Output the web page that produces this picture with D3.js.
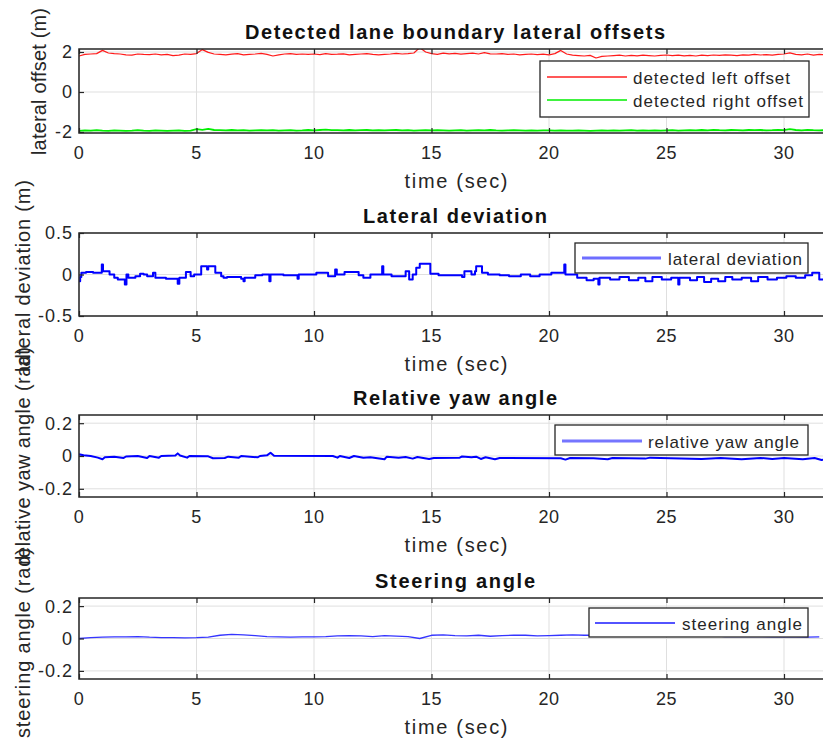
<!DOCTYPE html>
<html><head><meta charset="utf-8">
<script src="https://cdn.jsdelivr.net/npm/d3@7"></script>
<style>body{margin:0;background:#fff}svg{display:block}text{font-family:"Liberation Sans",Arial,Helvetica,sans-serif}</style>
</head><body><svg id="c" width="823" height="742"></svg>
<script>
// ---------- data ----------
const xTicks = [0, 5, 10, 15, 20, 25, 30];
const xDomain = [0, 32];

// lane offsets, sampled every 0.25 s
const offsetStep = 0.25;
const leftOffset = [
 1.80,1.88,1.90,1.92, 2.08,1.95,1.92,1.90, 1.86,1.84,1.90,1.88, 1.87,1.90,1.86,1.88,
 1.82,1.84,1.90,1.88, 1.92,2.12,1.98,1.90, 1.88,1.86,1.89,1.92, 1.86,1.88,1.90,1.93,
 1.88,1.80,1.86,1.90, 1.92,1.88,1.90,1.88, 1.90,1.87,1.92,1.88, 1.89,1.91,1.86,1.88,
 1.90,1.92,1.88,1.86, 1.88,1.90,1.93,1.90, 1.92,1.95,2.22,2.00, 1.92,1.88,1.94,1.91,
 1.93,1.89,1.92,1.94, 1.90,1.97,1.91,1.90, 1.92,1.88,1.90,1.86, 1.88,1.90,1.87,1.89,
 1.86,1.92,2.08,1.90, 1.84,1.82,1.80,1.83, 1.70,1.78,1.80,1.82, 1.84,1.80,1.83,1.81,
 1.84,1.82,1.80,1.83, 1.85,1.82,1.84,1.81, 1.83,1.80,1.84,1.82, 1.85,1.83,1.86,1.84,
 1.82,1.86,1.84,1.88, 1.85,1.87,1.84,1.88, 1.90,1.96,1.88,1.86, 1.90,1.84,1.88,1.86];
const rightOffset = [
 -1.94,-1.92,-1.93,-1.91, -1.93,-1.94,-1.92,-1.93, -1.94,-1.93,-1.91,-1.93, -1.94,-1.92,-1.93,-1.94,
 -1.93,-1.92,-1.94,-1.93, -1.86,-1.89,-1.84,-1.90, -1.91,-1.92,-1.90,-1.92, -1.91,-1.93,-1.92,-1.91,
 -1.92,-1.91,-1.93,-1.92, -1.91,-1.93,-1.92,-1.90, -1.92,-1.90,-1.88,-1.91, -1.91,-1.92,-1.90,-1.92,
 -1.91,-1.90,-1.92,-1.91, -1.92,-1.91,-1.90,-1.92, -1.91,-1.93,-1.92,-1.91, -1.92,-1.91,-1.92,-1.93,
 -1.92,-1.91,-1.93,-1.92, -1.91,-1.92,-1.90,-1.92, -1.93,-1.92,-1.91,-1.92, -1.93,-1.92,-1.93,-1.92,
 -1.92,-1.93,-1.92,-1.93, -1.93,-1.92,-1.93,-1.94, -1.93,-1.92,-1.93,-1.92, -1.93,-1.92,-1.91,-1.93,
 -1.92,-1.93,-1.92,-1.93, -1.92,-1.91,-1.93,-1.92, -1.91,-1.92,-1.90,-1.92, -1.89,-1.91,-1.92,-1.90,
 -1.91,-1.92,-1.90,-1.91, -1.90,-1.92,-1.91,-1.89, -1.91,-1.86,-1.90,-1.92, -1.89,-1.91,-1.92,-1.91];

// lateral deviation (step signal)
const latDevTime = [0,0.05,0.1,0.3,0.6,0.97,1.02,1.3,1.5,1.65,1.95,2.02,2.1,2.4,2.6,2.75,2.9,3.15,3.25,3.7,
 4.2,4.27,4.55,4.75,4.9,5.2,5.45,5.5,5.8,6.05,6.15,6.3,6.9,7.0,7.05,7.5,7.8,8.1,8.15,8.7,
 9.3,9.35,10.1,10.6,10.9,10.97,11.3,11.9,12.1,12.4,12.9,12.95,13.3,13.9,14.05,14.2,14.35,14.5,14.95,15.3,
 16.3,16.4,16.7,16.85,16.9,17.15,17.4,17.9,18.3,18.8,19.2,19.6,20.1,20.65,20.7,21.2,21.6,21.9,22.1,22.15,
 22.6,23.0,23.4,23.8,24.1,24.4,24.8,25.2,25.5,25.55,26.0,26.3,26.6,26.9,27.2,27.5,27.8,28.2,28.6,28.9,
 29.3,29.7,30.1,30.5,30.9,31.2,31.5,32];
const latDevValue = [-0.08,-0.03,0.02,0.03,0.02,0.12,0.04,0.0,-0.04,-0.06,-0.12,0.0,-0.04,-0.02,0.01,0.0,-0.02,0.02,-0.04,-0.05,
 -0.11,-0.04,0.03,-0.02,0.0,0.1,0.06,0.1,0.02,-0.02,-0.04,-0.03,-0.05,-0.08,-0.04,-0.01,0.0,-0.08,0.0,-0.01,
 -0.05,0.0,0.02,-0.02,0.06,0.0,0.03,-0.01,-0.04,0.0,0.1,0.0,-0.02,0.04,-0.06,0.0,0.08,0.13,0.01,-0.01,
 -0.03,0.04,0.0,0.04,0.1,0.02,0.0,-0.01,-0.02,0.0,-0.02,0.0,0.02,0.12,0.0,-0.04,-0.07,-0.05,-0.12,-0.04,
 -0.06,-0.03,-0.07,-0.04,-0.08,-0.03,-0.06,-0.04,-0.12,-0.04,-0.07,-0.03,-0.09,-0.05,-0.08,-0.03,-0.06,-0.04,-0.08,-0.03,
 -0.06,-0.04,-0.02,-0.04,-0.01,0.02,-0.06,-0.06];

// relative yaw angle
const yawTime = [0,0.2,0.5,0.8,1.0,1.1,1.5,1.9,2.0,2.5, 2.9,3.0,3.4,3.5,4.1,4.2,4.3,4.6,4.7,5.5,
 5.7,6.2,6.35,6.8,6.9,7.6,7.7,8.0,8.15,8.3, 10.8,11.0,11.1,11.5,11.7,12.1,12.4,13.0,13.1,13.6,
 13.9,14.2,14.4,14.9,15.1,16.2,16.3,16.7,16.9,17.1, 17.3,17.7,17.9,20.5,20.7,20.9,21.9,22.5,22.7,24.1,
 24.3,26.5,27.3,28.2,29.0,29.5,30.0,30.8,31.3,31.6, 32];
const yawValue = [0.01,0.005,0.0,-0.01,-0.02,-0.008,-0.005,-0.012,-0.003,0.0, -0.012,0.0,-0.01,0.0,0.003,0.016,0.003,-0.01,0.0,-0.002,
 -0.014,-0.012,-0.004,-0.01,0.0,-0.008,0.0,0.004,0.02,0.002, 0.0,-0.01,0.0,-0.012,0.0,-0.01,-0.008,-0.02,-0.004,-0.01,
 -0.006,-0.016,-0.006,-0.018,-0.012,-0.01,-0.003,-0.008,-0.004,-0.018, -0.008,-0.02,-0.012,-0.014,-0.022,-0.012,-0.014,-0.02,-0.012,-0.016,
 -0.01,-0.018,-0.012,-0.02,-0.012,-0.018,-0.012,-0.02,-0.012,-0.024, -0.014];

// steering angle, sampled every 0.5 s
const steerStep = 0.5;
const steerValue = [0.0,0.005, 0.008,0.01, 0.01,0.012, 0.008,0.006, 0.005,0.004, 0.005,0.008, 0.02,0.025, 0.022,0.018,
 0.012,0.01, 0.008,0.01, 0.01,0.012, 0.016,0.018, 0.016,0.012, 0.018,0.015, 0.012,0.0, 0.02,0.022,
 0.018,0.016, 0.02,0.014, 0.018,0.02, 0.02,0.016, 0.018,0.02, 0.022,0.02, 0.02,0.018, 0.02,0.022,
 0.02,0.018, 0.016,0.018, 0.015,0.014, 0.016,0.012, 0.014,0.012, 0.012,0.01, 0.012,0.01, 0.008,0.01];

const titles = ["Detected lane boundary lateral offsets","Lateral deviation","Relative yaw angle","Steering angle"];
const yLabels = ["lateral offset (m)","lateral deviation (m)","relative yaw angle (rad)","steering angle (rad)"];
const xLabel = "time (sec)";
const yTicks1 = [-2,0,2], yTicks2 = [-0.5,0,0.5], yTicks3 = [-0.2,0,0.2], yTicks4 = [-0.2,0,0.2];

// ---------- drawing ----------
const svg = d3.select("#c");
const X0 = 79, X1 = 831;
const INK = "#262626";

const panels = [
 {top:49, bottom:133, dom:[-2.05,2.15], ticks:yTicks1, fmt:d=>String(d).replace("-","-"),
  series:[
   {t:leftOffset.map((_,i)=>i*offsetStep), v:leftOffset, color:"#ff1a1a", w:1.2, curve:d3.curveLinear},
   {t:rightOffset.map((_,i)=>i*offsetStep), v:rightOffset, color:"#00ee00", w:1.8, curve:d3.curveLinear}],
  title:{len:420}, ylab:{x:46, cy:81.5, len:147},
  legend:{x:540,y:61,w:269,h:56, items:[
    {label:"detected left offset", color:"#ff2020", w:1.5, ly:77, len:157},
    {label:"detected right offset", color:"#00ee00", w:1.5, ly:100, len:170}], lx0:547, lx1:627, tx:633}},
 {top:233, bottom:316, dom:[-0.5,0.5], ticks:yTicks2,
  series:[{t:latDevTime, v:latDevValue, color:"#0000ff", w:2, curve:d3.curveStepAfter}],
  title:{len:184}, ylab:{x:30, cy:276, len:192},
  legend:{x:575,y:243,w:233,h:30, items:[{label:"lateral deviation", color:"#6e6eff", w:3, ly:258, len:134}], lx0:582, lx1:661, tx:668}},
 {top:415, bottom:497, dom:[-0.25,0.25], ticks:yTicks3,
  series:[{t:yawTime, v:yawValue, color:"#0000ff", w:2, curve:d3.curveLinear}],
  title:{len:204}, ylab:{x:30, cy:456, len:218},
  legend:{x:555,y:425,w:253,h:30, items:[{label:"relative yaw angle", color:"#7575ff", w:3, ly:441, len:151}], lx0:562, lx1:642, tx:648}},
 {top:598, bottom:679, dom:[-0.25,0.25], ticks:yTicks4,
  series:[{t:steerValue.map((_,i)=>i*steerStep), v:steerValue, color:"#3535ff", w:1.3, curve:d3.curveLinear}],
  title:{len:160}, ylab:{x:30, cy:643, len:190},
  legend:{x:589,y:608,w:219,h:29, items:[{label:"steering angle", color:"#1a1aff", w:1.5, ly:623, len:120}], lx0:595, lx1:675, tx:682}}
];

const x = d3.scaleLinear().domain(xDomain).range([X0, X1]);

panels.forEach((p, k) => {
  const y = d3.scaleLinear().domain(p.dom).range([p.bottom, p.top]);
  const g = svg.append("g");
  g.append("rect").attr("x",X0).attr("y",p.top).attr("width",X1-X0).attr("height",p.bottom-p.top).attr("fill","#fff");
  // grid
  g.selectAll(".gx").data(xTicks).join("line")
    .attr("x1",d=>x(d)).attr("x2",d=>x(d)).attr("y1",p.top).attr("y2",p.bottom)
    .attr("stroke","#dfdfdf").attr("stroke-width",1);
  g.selectAll(".gy").data(p.ticks).join("line")
    .attr("x1",X0).attr("x2",X1).attr("y1",d=>y(d)).attr("y2",d=>y(d))
    .attr("stroke","#dfdfdf").attr("stroke-width",1);
  // clip
  const cid = "clip"+k;
  svg.append("clipPath").attr("id",cid).append("rect")
    .attr("x",X0).attr("y",p.top).attr("width",X1-X0).attr("height",p.bottom-p.top);
  p.series.forEach(s => {
    const pts = s.t.map((t,i)=>[t, s.v[i]]);
    g.append("path").datum(pts).attr("clip-path",`url(#${cid})`)
      .attr("fill","none").attr("stroke",s.color).attr("stroke-width",s.w).attr("stroke-linejoin","round")
      .attr("d", d3.line().x(d=>x(d[0])).y(d=>y(d[1])).curve(s.curve));
  });
  // axes box
  g.append("rect").attr("x",X0).attr("y",p.top).attr("width",X1-X0).attr("height",p.bottom-p.top)
    .attr("fill","none").attr("stroke",INK).attr("stroke-width",1.5);
  // ticks (inside)
  const xa = d3.axisBottom(x).tickValues(xTicks).tickSizeInner(-5).tickSizeOuter(0).tickFormat("");
  g.append("g").attr("transform",`translate(0,${p.bottom})`).call(xa)
    .call(a=>{a.select(".domain").remove(); a.selectAll("line").attr("stroke",INK).attr("stroke-width",1.2);});
  const xt = d3.axisTop(x).tickValues(xTicks).tickSizeInner(-5).tickSizeOuter(0).tickFormat("");
  g.append("g").attr("transform",`translate(0,${p.top})`).call(xt)
    .call(a=>{a.select(".domain").remove(); a.selectAll("line").attr("stroke",INK).attr("stroke-width",1.2);});
  const ya = d3.axisLeft(y).tickValues(p.ticks).tickSizeInner(-5).tickSizeOuter(0).tickFormat("");
  g.append("g").attr("transform",`translate(${X0},0)`).call(ya)
    .call(a=>{a.select(".domain").remove(); a.selectAll("line").attr("stroke",INK).attr("stroke-width",1.2);});
  // tick labels
  g.selectAll(".xl").data(xTicks).join("text")
    .attr("x",d=>x(d)).attr("y",p.bottom+26).attr("text-anchor","middle")
    .attr("font-size",18).attr("fill",INK).attr("letter-spacing","0.5px").text(d=>d);
  g.selectAll(".yl").data(p.ticks).join("text")
    .attr("x",73).attr("y",d=>y(d)).attr("dy","0.36em").attr("text-anchor","end")
    .attr("font-size",18).attr("fill",INK).attr("letter-spacing","1px").text(d=>d);
  // title
  g.append("text").attr("x",(X0+X1)/2).attr("y",p.top-10.5).attr("text-anchor","middle")
    .attr("font-size",20).attr("font-weight","bold").attr("fill","#111")
    .attr("textLength",p.title.len).attr("lengthAdjust","spacing").text(titles[k]);
  // xlabel
  g.append("text").attr("x",456).attr("y",p.bottom+54.5).attr("text-anchor","middle")
    .attr("font-size",20).attr("fill",INK)
    .attr("textLength",103).attr("lengthAdjust","spacing").text(xLabel);
  // ylabel
  g.append("text").attr("transform",`translate(${p.ylab.x},${p.ylab.cy}) rotate(-90)`)
    .attr("text-anchor","middle").attr("font-size",20).attr("fill",INK)
    .attr("textLength",p.ylab.len).attr("lengthAdjust","spacing").text(yLabels[k]);
});

// legends drawn last so they cover data
panels.forEach(p => {
  const L = p.legend;
  const g = svg.append("g");
  g.append("rect").attr("x",L.x).attr("y",L.y).attr("width",L.w).attr("height",L.h)
    .attr("fill","#fff").attr("stroke",INK).attr("stroke-width",1.3);
  L.items.forEach(it => {
    g.append("line").attr("x1",p.legend.lx0).attr("x2",p.legend.lx1).attr("y1",it.ly).attr("y2",it.ly)
      .attr("stroke",it.color).attr("stroke-width",it.w);
    g.append("text").attr("x",p.legend.tx).attr("y",it.ly+6.5).attr("font-size",17).attr("fill",INK)
      .attr("textLength",it.len).attr("lengthAdjust","spacing").text(it.label);
  });
});
</script>
</body></html>
